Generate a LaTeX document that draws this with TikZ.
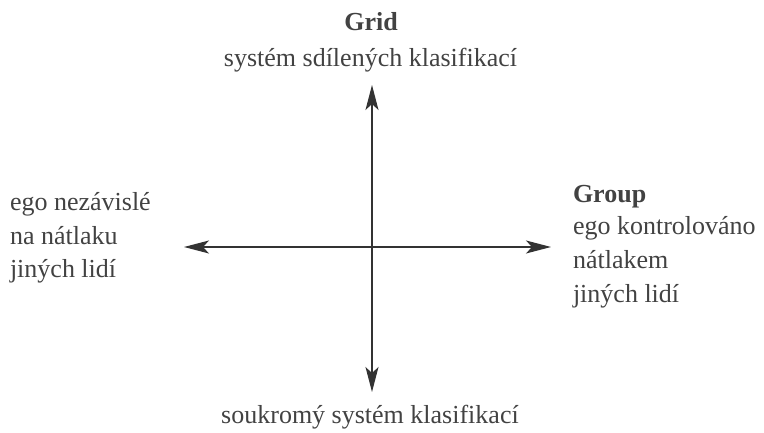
\documentclass[tikz,border=0pt]{standalone}
\usepackage{fontspec}
\setmainfont{Liberation Serif}
\usetikzlibrary{arrows.meta}
\definecolor{txt}{HTML}{424242}
\definecolor{axis}{HTML}{333333}
\begin{document}
\begin{tikzpicture}[x=1pt,y=-1pt,
  lab/.style={inner sep=0pt,outer sep=0pt,text=txt,font=\fontsize{26}{33}\selectfont},
  bl/.style={lab,anchor=base west},
  bc/.style={lab,anchor=base},
  axisline/.style={draw=axis,line width=1.3pt,
    {Stealth[length=25pt,width=13pt,inset=6pt]}-{Stealth[length=25pt,width=13pt,inset=6pt]}}]
\useasboundingbox (0,0) rectangle (764,433);
% axis ends
\coordinate (top) at (372,85);
\coordinate (bottom) at (372,392);
\coordinate (left) at (184,247);
\coordinate (right) at (551,247);
\draw[axisline] (top) -- (bottom);
\draw[axisline] (left) -- (right);
% top labels
\node[bc,font=\fontsize{26}{33}\selectfont\bfseries] (grid) at (371,31) {Grid};
\node[bc] (gridsub) at (370.5,67) {systém sdílených klasifikací};
% bottom label
\node[bc] (bottomlab) at (370,423) {soukromý systém klasifikací};
% left labels
\node[bl] (l1) at (10,211) {ego nezávislé};
\node[bl] (l2) at (10,244) {na nátlaku};
\node[bl] (l3) at (10,277) {jiných lidí};
% right labels
\node[bl,font=\fontsize{26}{33}\selectfont\bfseries] (group) at (573,203) {Group};
\node[bl] (r1) at (573,235) {ego kontrolováno};
\node[bl] (r2) at (573,269) {nátlakem};
\node[bl] (r3) at (573,302) {jiných lidí};
\end{tikzpicture}
\end{document}
